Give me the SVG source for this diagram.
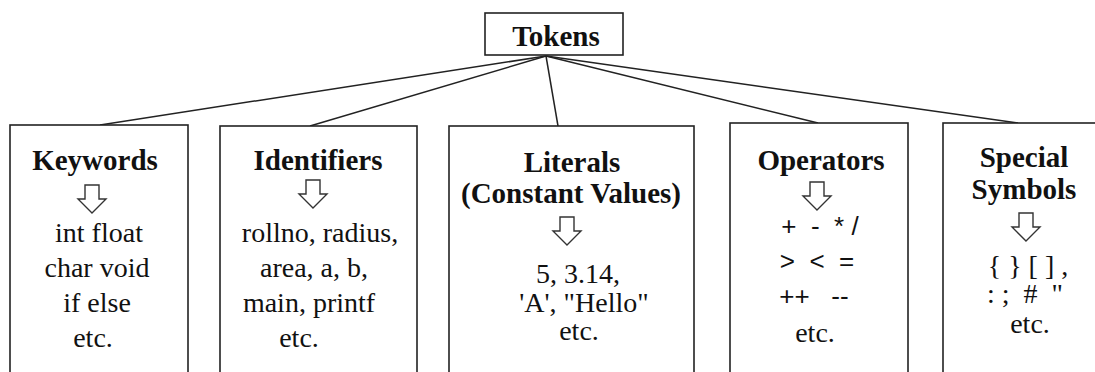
<svg xmlns="http://www.w3.org/2000/svg" width="1095" height="372" viewBox="0 0 1095 372">
<style>
.box{fill:#fff;stroke:#222;stroke-width:1.6}
.edge{stroke:#222;stroke-width:1.5;fill:none}
.arr{fill:#fff;stroke:#333;stroke-width:1.4;stroke-linejoin:miter}
.h{font-family:'Liberation Serif','Times New Roman','DejaVu Serif',serif;font-weight:bold;font-size:29px;fill:#111;text-anchor:middle}
.t{font-family:'Liberation Serif','Times New Roman','DejaVu Serif',serif;font-size:28px;fill:#111;text-anchor:middle}
.s{font-family:'Liberation Sans',Arial,sans-serif;font-size:26px;fill:#111;text-anchor:middle}
</style>
<defs>
<polygon id="darrow" class="arr" points="-7,0 7,0 7,14 14,14 0,28 -14,14 -7,14"/>
</defs>
<rect width="1095" height="372" fill="#fff"/>
<g id="connectors">
<line class="edge" x1="546" y1="56" x2="100" y2="125"/>
<line class="edge" x1="546" y1="56" x2="310" y2="126"/>
<line class="edge" x1="546" y1="56" x2="558" y2="126"/>
<line class="edge" x1="546" y1="56" x2="818" y2="123"/>
<line class="edge" x1="546" y1="56" x2="1018" y2="123"/>
</g>
<g id="tokens">
<rect class="box" x="485" y="13" width="138" height="42"/>
<text class="h" x="556" y="46" font-size="28" font-family="Liberation Serif, serif">Tokens</text>
</g>
<g id="keywords">
<rect class="box" x="10" y="125" width="178" height="260"/>
<text class="h" x="95" y="170">Keywords</text>
<use href="#darrow" x="92" y="185"/>
<text class="t" x="99" y="242">int float</text>
<text class="t" x="97" y="277">char void</text>
<text class="t" x="97" y="312">if else</text>
<text class="t" x="93" y="347">etc.</text>
</g>
<g id="identifiers">
<rect class="box" x="220" y="126" width="197" height="260"/>
<text class="h" x="318" y="170">Identifiers</text>
<use href="#darrow" x="313" y="180"/>
<text class="t" x="320" y="242" font-size="29">rollno, radius,</text>
<text class="t" x="314" y="277" font-size="29">area, a, b,</text>
<text class="t" x="309" y="312" font-size="29">main, printf</text>
<text class="t" x="299" y="347" font-size="29">etc.</text>
</g>
<g id="literals">
<rect class="box" x="449" y="126" width="245" height="260"/>
<text class="h" x="572" y="172">Literals</text>
<text class="h" x="571" y="203">(Constant Values)</text>
<use href="#darrow" x="567" y="217"/>
<text class="t" x="578" y="283" font-size="27">5, 3.14,</text>
<text class="t" x="584" y="312" font-size="27">'A', "Hello"</text>
<text class="t" x="579" y="340" font-size="27">etc.</text>
</g>
<g id="operators">
<rect class="box" x="730" y="123" width="178" height="260"/>
<text class="h" x="821" y="170">Operators</text>
<use href="#darrow" x="817" y="182"/>
<text class="s" x="820" y="235" xml:space="preserve">+  -  * /</text>
<text class="s" x="817" y="270" xml:space="preserve">&gt;  &lt;  =</text>
<text class="s" x="814" y="305" xml:space="preserve">++   --</text>
<text class="t" x="815" y="342">etc.</text>
</g>
<g id="special-symbols">
<rect class="box" x="943" y="123" width="170" height="260"/>
<text class="h" x="1024" y="167">Special</text>
<text class="h" x="1024" y="199">Symbols</text>
<use href="#darrow" x="1026" y="213"/>
<text class="t" x="1028" y="275" xml:space="preserve">{ } [ ] ,</text>
<text class="t" x="1025" y="303" xml:space="preserve">: ;  #  "</text>
<text class="t" x="1030" y="333">etc.</text>
</g>
</svg>
